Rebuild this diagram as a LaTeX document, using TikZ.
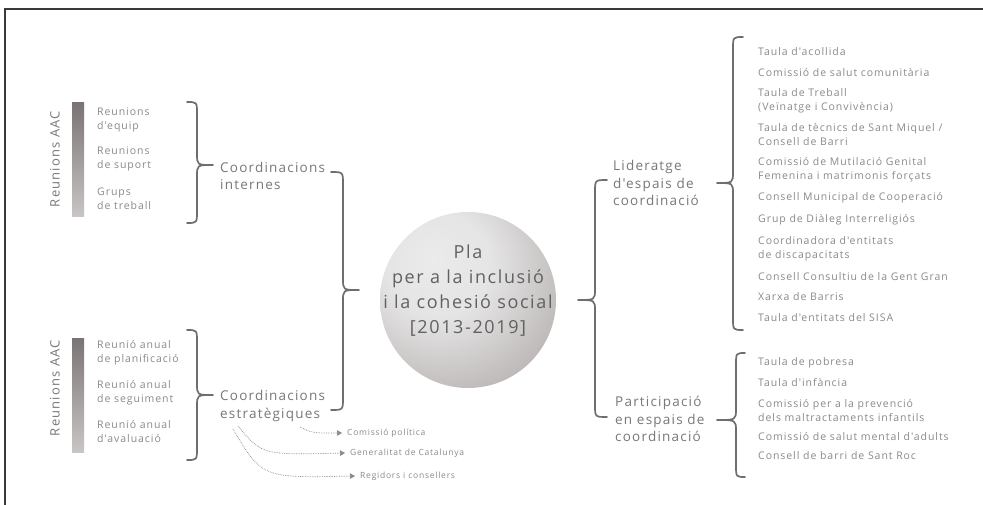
\documentclass[tikz,border=0pt]{standalone}
\usepackage{fontspec}
\setmainfont{Open Sans}
\newfontfamily\trackedfont[LetterSpace=9]{Open Sans}
\usetikzlibrary{arrows.meta}
\definecolor{itemtxt}{HTML}{8A8A8A}
\definecolor{midtxt}{HTML}{787878}
\definecolor{bracec}{HTML}{6E6E6E}
\definecolor{framec}{HTML}{3A3A3A}
\definecolor{ballc0}{HTML}{EBEBEB}
\definecolor{ballc1}{HTML}{C4BFBF}
\definecolor{ballc2}{HTML}{908888}
\pgfdeclareradialshading{sphereshade}{\pgfpoint{-10bp}{12bp}}{%
  color(0bp)=(ballc0); color(15bp)=(ballc0!85!ballc1); color(40bp)=(ballc1!70!ballc2); color(60bp)=(ballc2); color(100bp)=(ballc2)}
% brace: top end, spine x, tip, bottom end
\newcommand{\mybrace}[6]{%
  \draw[bracestyle] (#1,#2) .. controls (#3,#2) .. (#3,{#2+12}) -- (#3,{#5-11})
    .. controls (#3,#5) .. (#4,#5) .. controls (#3,#5) .. (#3,{#5+11})
    -- (#3,{#6-12}) .. controls (#3,#6) .. (#1,#6);}
\tikzset{
  bracestyle/.style={draw=bracec, line width=1.7pt, line cap=round, line join=round},
  itemtext/.style={anchor=west, align=left, text=itemtxt, inner sep=0pt, font=\trackedfont\fontsize{10.5}{14}\selectfont},
  midtext/.style={anchor=west, align=left, text=midtxt, inner sep=0pt, font=\trackedfont\fontsize{13.5}{17.5}\selectfont},
  sidetext/.style={rotate=90, text=midtxt, inner sep=0pt, font=\trackedfont\fontsize{13}{15}\selectfont},
  smalltext/.style={anchor=west, text=itemtxt, inner sep=0pt, font=\trackedfont\fontsize{8.5}{10}\selectfont},
  sidebar/.style={top color=ballc2!85!black, bottom color=ballc1!90!white, draw=none},
  dotarrow/.style={draw=itemtxt, densely dotted, line width=0.7pt, -{Triangle[length=5pt,width=5.5pt]}}
}
\begin{document}
\begin{tikzpicture}[x=1pt,y=-1pt]
\useasboundingbox (0,0) rectangle (983,505);
\fill[white] (0,0) rectangle (983,505);
\draw[draw=framec, line width=1.3pt] (5,505) -- (5,9) -- (983,9);

% left group 1
\node[sidetext] (aac1) at (55,159) {Reunions AAC};
\shade[sidebar] (72,103) rectangle (84,217);
\node[itemtext] (l1a) at (97,120) {Reunions\\d'equip};
\node[itemtext] (l1b) at (97,159) {Reunions\\de suport};
\node[itemtext] (l1c) at (97,199) {Grups\\de treball};
\mybrace{187}{102}{197}{213}{165}{223}
\node[midtext] (ci) at (220,176) {Coordinacions\\internes};

% left group 2
\node[sidetext] (aac2) at (55,388) {Reunions AAC};
\shade[sidebar] (72,338) rectangle (84,452);
\node[itemtext] (l2a) at (97,352.5) {Reunió anual\\de planificació};
\node[itemtext] (l2b) at (97,392.5) {Reunió anual\\de seguiment};
\node[itemtext] (l2c) at (97,431.5) {Reunió anual\\d'avaluació};
\mybrace{187}{330}{197}{213}{395}{460}
\node[midtext] (ce) at (220,406) {Coordinacions\\estratègiques};

% dotted arrows
\coordinate (s1) at (300,427);
\coordinate (s2) at (238,426);
\coordinate (s3) at (233,429);
\node[smalltext] (cp) at (347,433) {Comissió política};
\node[smalltext] (gc) at (350,453) {Generalitat de Catalunya};
\node[smalltext] (rc) at (360,476) {Regidors i consellers};
\draw[dotarrow] (s1) .. controls (312,433) .. ([xshift=-5pt]cp.west);
\draw[dotarrow] (s2) .. controls (262,455) .. ([xshift=-5pt]gc.west);
\draw[dotarrow] (s3) .. controls (262,478) .. ([xshift=-5pt]rc.west);

% big left brace
\mybrace{331}{172}{343}{359}{290}{410}

% central sphere
\shade[shading=sphereshade] (468,300) circle (88);
\node[align=center, text=black!62, inner sep=0pt, font=\trackedfont\fontsize{18}{25}\selectfont] (pla) at (468,291) {Pla\\per a la inclusió\\i la cohesió social\\{[}2013-2019{]}};

% big right brace
\mybrace{607}{180}{595}{578}{300}{417}

\node[midtext] (lid) at (613,183) {Lideratge\\d'espais de\\coordinació};
\node[midtext] (par) at (615,419) {Participació\\en espais de\\coordinació};

% list brace 1
\mybrace{743}{37}{733}{717}{183}{330}
\node[itemtext] (r1) at (758,52) {Taula d'acollida};
\node[itemtext] (r2) at (758,73) {Comissió de salut comunitària};
\node[itemtext] (r3) at (758,100.5) {Taula de Treball\\(Veïnatge i Convivència)};
\node[itemtext] (r4) at (758,134.5) {Taula de tècnics de Sant Miquel /\\Consell de Barri};
\node[itemtext] (r5) at (758,169.5) {Comissió de Mutilació Genital\\Femenina i matrimonis forçats};
\node[itemtext] (r6) at (758,198) {Consell Municipal de Cooperació};
\node[itemtext] (r7) at (758,220) {Grup de Diàleg Interreligiós};
\node[itemtext] (r8) at (758,248.5) {Coordinadora d'entitats\\de discapacitats};
\node[itemtext] (r9) at (758,277) {Consell Consultiu de la Gent Gran};
\node[itemtext] (r10) at (758,297) {Xarxa de Barris};
\node[itemtext] (r11) at (758,318) {Taula d'entitats del SISA};

% list brace 2
\mybrace{745}{353}{736}{717}{420}{477}
\node[itemtext] (p1) at (758,363) {Taula de pobresa};
\node[itemtext] (p2) at (758,383) {Taula d'infància};
\node[itemtext] (p3) at (758,411) {Comissió per a la prevenció\\dels maltractaments infantils};
\node[itemtext] (p4) at (758,437) {Comissió de salut mental d'adults};
\node[itemtext] (p5) at (758,456) {Consell de barri de Sant Roc};
\end{tikzpicture}
\end{document}
